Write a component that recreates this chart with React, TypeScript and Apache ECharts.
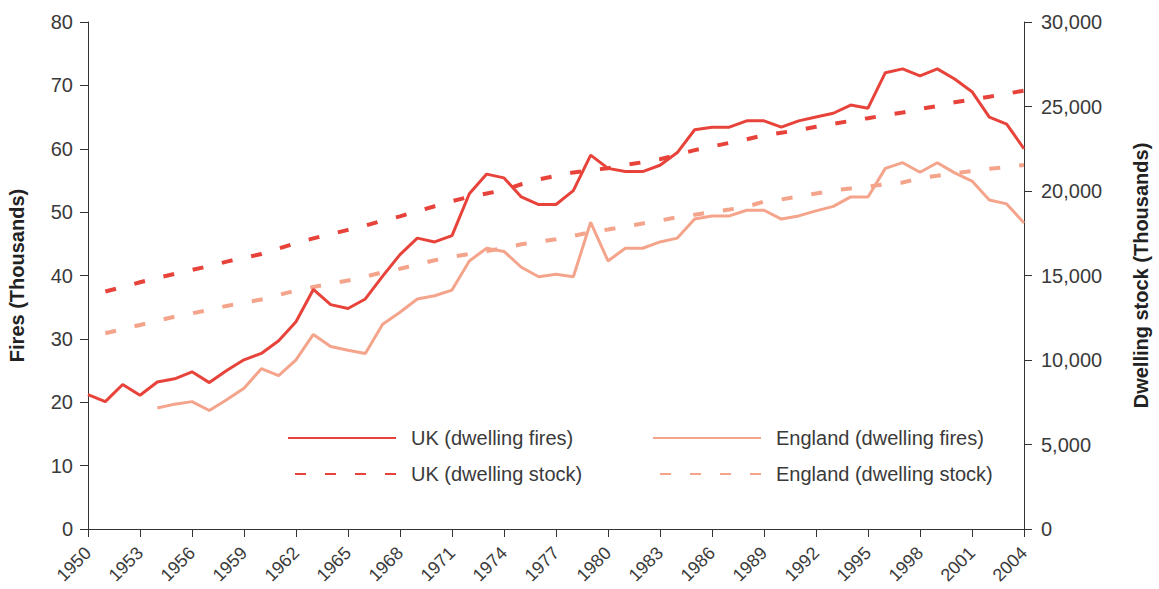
import React, { useEffect, useRef } from "react";
import * as echarts from "echarts";

const years: string[] = [];
for (let y = 1950; y <= 2004; y++) years.push(String(y));

const ukFires = [
  21.2, 20.1, 22.8, 21.1, 23.2, 23.7, 24.8, 23.1, 25.0, 26.7,
  27.7, 29.7, 32.7, 37.8, 35.4, 34.8, 36.3, 39.9, 43.3, 45.9,
  45.3, 46.3, 52.9, 56.0, 55.4, 52.4, 51.2, 51.2, 53.4, 59.0,
  56.9, 56.4, 56.4, 57.4, 59.4, 63.0, 63.4, 63.4, 64.4, 64.4,
  63.4, 64.4, 65.0, 65.6, 66.9, 66.4, 72.0, 72.6, 71.5, 72.6,
  71.0, 69.0, 65.0, 63.9, 60.0,
];

const englandFires = [
  null, null, null, null, 19.1, 19.7, 20.1, 18.7, 20.4, 22.2,
  25.3, 24.2, 26.7, 30.7, 28.8, 28.2, 27.7, 32.3, 34.2, 36.3,
  36.8, 37.7, 42.3, 44.3, 43.8, 41.3, 39.8, 40.2, 39.8, 48.4,
  42.3, 44.3, 44.3, 45.3, 45.9, 48.9, 49.4, 49.4, 50.3, 50.3,
  48.9, 49.4, 50.2, 50.9, 52.4, 52.4, 56.9, 57.8, 56.3, 57.8,
  56.2, 54.9, 51.9, 51.3, 48.3,
];

const ukStock = [
  null, 14050, 14320, 14600, 14850, 15100, 15330, 15560, 15820, 16050,
  16270, 16600, 16920, 17200, 17450, 17700, 17950, 18250, 18500, 18800,
  19100, 19400, 19650, 19850, 20060, 20400, 20680, 20900, 21100, 21230,
  21350, 21540, 21700, 21880, 22150, 22420, 22630, 22850, 23060, 23300,
  23450, 23600, 23800, 23980, 24150, 24310, 24480, 24640, 24850, 25030,
  25250, 25420, 25580, 25760, 25940,
];

const englandStock = [
  null, 11580, 11830, 12070, 12320, 12560, 12760, 12960, 13200, 13400,
  13580, 13850, 14110, 14320, 14520, 14700, 14930, 15190, 15400, 15650,
  15900, 16100, 16280, 16450, 16620, 16850, 17000, 17150, 17350, 17560,
  17720, 17900, 18080, 18250, 18450, 18600, 18750, 18900, 19070, 19380,
  19500, 19680, 19850, 20030, 20150, 20270, 20390, 20500, 20760, 20900,
  21050, 21180, 21310, 21420, 21540,
];

const UK_COLOR = "#e8433a";
const EN_COLOR = "#f5a48c";
const FONT = "Liberation Sans";
const TEXT = "#3a3a3a";
const DASH = [11, 19];

export default function App() {
  const ref = useRef<HTMLDivElement>(null);
  useEffect(() => {
    if (!ref.current) return;
    const chart = echarts.init(ref.current, undefined, { renderer: "svg" });
    const legendBase = (name: string, left: number, top: number) => ({
      data: [name],
      left,
      top,
      padding: 0,
      itemWidth: 108,
      itemHeight: 14,
      selectedMode: false,
      itemStyle: { opacity: 0 },
      lineStyle: { dashOffset: 23 },
      textStyle: {
        fontFamily: FONT,
        fontSize: 20,
        color: TEXT,
        padding: [0, 0, 0, 10],
      },
    });
    chart.setOption({
      animation: false,
      textStyle: { fontFamily: FONT },
      grid: {
        left: 88,
        right: 135,
        top: 22,
        bottom: 60,
        containLabel: false,
        outerBoundsMode: "none",
      },
      legend: [
        legendBase("UK (dwelling fires)", 287, 428),
        legendBase("England (dwelling fires)", 652, 428),
        legendBase("UK (dwelling stock)", 287, 464),
        legendBase("England (dwelling stock)", 652, 464),
      ],
      xAxis: {
        type: "category",
        data: years,
        boundaryGap: false,
        axisLine: { lineStyle: { color: "#333", width: 1 } },
        axisTick: { interval: 2, length: 8, lineStyle: { color: "#333" } },
        axisLabel: {
          interval: 2,
          rotate: 45,
          fontFamily: FONT,
          fontSize: 18,
          color: TEXT,
          margin: 21,
        },
        splitLine: { show: false },
      },
      yAxis: [
        {
          type: "value",
          min: 0,
          max: 80,
          interval: 10,
          name: "Fires (Thousands)",
          nameLocation: "middle",
          nameRotate: 90,
          nameGap: 61,
          nameTextStyle: { fontFamily: FONT, fontSize: 20, fontWeight: "bold", color: "#222" },
          axisLine: { show: true, lineStyle: { color: "#333", width: 1 } },
          axisTick: { show: true, length: 8, lineStyle: { color: "#333" } },
          axisLabel: { fontFamily: FONT, fontSize: 20, color: TEXT, margin: 15 },
          splitLine: { show: false },
        },
        {
          type: "value",
          min: 0,
          max: 30000,
          interval: 5000,
          position: "right",
          name: "Dwelling stock (Thousands)",
          nameLocation: "middle",
          nameRotate: 90,
          nameGap: 107,
          nameTextStyle: { fontFamily: FONT, fontSize: 20, fontWeight: "bold", color: "#222" },
          axisLine: { show: true, lineStyle: { color: "#333", width: 1 } },
          axisTick: { show: true, length: 8, lineStyle: { color: "#333" } },
          axisLabel: {
            fontFamily: FONT,
            fontSize: 20,
            color: TEXT,
            margin: 17,
            formatter: (v: number) => v.toLocaleString("en-US"),
          },
          splitLine: { show: false },
        },
      ],
      series: [
        {
          name: "UK (dwelling fires)",
          type: "line",
          yAxisIndex: 0,
          data: ukFires,
          symbol: "none",
          lineStyle: { color: UK_COLOR, width: 3 },
          itemStyle: { color: UK_COLOR },
          z: 3,
        },
        {
          name: "England (dwelling fires)",
          type: "line",
          yAxisIndex: 0,
          data: englandFires,
          symbol: "none",
          lineStyle: { color: EN_COLOR, width: 3 },
          itemStyle: { color: EN_COLOR },
          z: 3,
        },
        {
          name: "UK (dwelling stock)",
          type: "line",
          yAxisIndex: 1,
          data: ukStock,
          symbol: "none",
          lineStyle: { color: UK_COLOR, width: 4, type: DASH },
          itemStyle: { color: UK_COLOR },
          z: 2,
        },
        {
          name: "England (dwelling stock)",
          type: "line",
          yAxisIndex: 1,
          data: englandStock,
          symbol: "none",
          lineStyle: { color: EN_COLOR, width: 4, type: DASH },
          itemStyle: { color: EN_COLOR },
          z: 2,
        },
      ],
    });
    return () => chart.dispose();
  }, []);
  return (
    <div
      ref={ref}
      style={{ position: "fixed", left: 0, top: 0, width: 1159, height: 589, background: "#fff" }}
    />
  );
}
